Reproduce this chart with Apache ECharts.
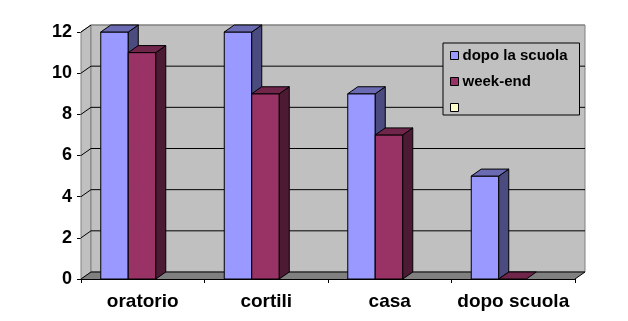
<!DOCTYPE html>
<html>
<head>
<meta charset="utf-8">
<script src="https://cdn.jsdelivr.net/npm/echarts@6/dist/echarts.min.js"></script>
<style>
html,body{margin:0;padding:0;background:#fff;}
#chart{width:628px;height:321px;}
</style>
</head>
<body>
<div id="chart"></div>
<script>
// ---- data ----
const categories = ['oratorio', 'cortili', 'casa', 'dopo scuola'];
const seriesNames = ['dopo la scuola', 'week-end', ' '];
const dopoLaScuola = [12, 12, 9, 5];
const weekEnd = [11, 9, 7, 0];
const yTicks = [0, 2, 4, 6, 8, 10, 12];

// ---- style ----
const DX = 10, DY = -7;          // 3D depth offset
const BAR_W = 0.2227;            // bar width as a fraction of band
const FONT = '"Liberation Sans", Arial, sans-serif';

function barRenderer(offsetFrac, front, top, side) {
  return function (params, api) {
    const idx = api.value(0), v = api.value(1);
    const p = api.coord([idx, v]);
    const p0 = api.coord([idx, 0]);
    const band = api.size([1, 0])[0];
    const xL = p[0] + offsetFrac * band;
    const w = BAR_W * band;
    const yT = p[1], yB = p0[1];
    const st = { stroke: '#000', lineWidth: 1 };
    const children = [];
    if (yB - yT > 0.5) {
      children.push({ type: 'rect', shape: { x: xL, y: yT, width: w, height: yB - yT },
        style: Object.assign({ fill: front }, st) });
      children.push({ type: 'polygon', shape: { points: [[xL + w, yT], [xL + w + DX, yT + DY], [xL + w + DX, yB + DY], [xL + w, yB]] },
        style: Object.assign({ fill: side }, st) });
    }
    children.push({ type: 'polygon', shape: { points: [[xL, yT], [xL + w, yT], [xL + w + DX, yT + DY], [xL + DX, yT + DY]] },
      style: Object.assign({ fill: top }, st) });
    return { type: 'group', children: children };
  };
}

function wallsRenderer(params, api) {
  const cs = params.coordSys;
  const x0 = cs.x, x1 = cs.x + cs.width;
  const yTop = cs.y, yBot = cs.y + cs.height;
  return {
    type: 'group',
    children: [
      { type: 'polygon', shape: { points: [[x0, yTop], [x0 + DX, yTop + DY], [x0 + DX, yBot + DY], [x0, yBot]] },
        style: { fill: '#C0C0C0', stroke: '#808080', lineWidth: 1 } },
      { type: 'rect', shape: { x: x0 + DX, y: yTop + DY, width: cs.width, height: cs.height },
        style: { fill: '#C0C0C0', stroke: '#808080', lineWidth: 1 } },
      { type: 'polygon', shape: { points: [[x0, yBot], [x1, yBot], [x1 + DX, yBot + DY], [x0 + DX, yBot + DY]] },
        style: { fill: '#808080', stroke: null } },
      { type: 'line', shape: { x1: x1, y1: yBot, x2: x1 + DX, y2: yBot + DY },
        style: { stroke: '#000', lineWidth: 1 } }
    ]
  };
}

function gridRenderer(params, api) {
  const cs = params.coordSys;
  const v = api.value(1);
  const y = api.coord([0, v])[1];
  const x0 = cs.x, x1 = cs.x + cs.width;
  const isTop = v === yTicks[yTicks.length - 1];
  return {
    type: 'group',
    children: [
      { type: 'line', shape: { x1: x0, y1: y, x2: x0 + DX, y2: y + DY }, style: { stroke: '#000', lineWidth: 1 } },
      { type: 'line', shape: { x1: x0 + DX, y1: y + DY, x2: x1 + DX, y2: y + DY },
        style: { stroke: isTop ? '#808080' : '#000', lineWidth: 1 } }
    ]
  };
}

const chart = echarts.init(document.getElementById('chart'), null, { renderer: 'canvas' });
chart.setOption({
  backgroundColor: '#fff',
  animation: false,
  grid: { left: 81, right: 53, top: 32, bottom: 42 },
  legend: {
    data: seriesNames,
    orient: 'vertical',
    left: 443, top: 43,
    padding: [5, 12, 0, 7],
    itemWidth: 8, itemHeight: 8,
    itemGap: 11,
    icon: 'rect',
    backgroundColor: '#C0C0C0',
    borderColor: '#000', borderWidth: 1, borderRadius: 0,
    itemStyle: { borderColor: '#000', borderWidth: 1 },
    textStyle: { fontFamily: FONT, fontWeight: 'bold', fontSize: 15, color: '#000', lineHeight: 14, padding: [0, 0, 0, -1] },
    selectedMode: false
  },
  xAxis: {
    type: 'category',
    data: categories,
    boundaryGap: true,
    axisLine: { lineStyle: { color: '#000', width: 1 } },
    axisTick: { show: true, length: 4, interval: 0, lineStyle: { color: '#000' } },
    axisLabel: { interval: 0, fontFamily: FONT, fontWeight: 'bold', fontSize: 19, color: '#000', margin: 13 },
    splitLine: { show: false }
  },
  yAxis: {
    type: 'value',
    min: 0, max: 12, interval: 2,
    axisLine: { show: true, lineStyle: { color: '#808080', width: 1 } },
    axisTick: { show: true, length: 4, lineStyle: { color: '#000' } },
    axisLabel: { fontFamily: FONT, fontWeight: 'bold', fontSize: 18, color: '#000', margin: 9 },
    splitLine: { show: false }
  },
  series: [
    { type: 'custom', name: '_walls', silent: true, renderItem: wallsRenderer, data: [[0, 0]], encode: { x: 0, y: 1 }, z: 1 },
    { type: 'custom', name: '_grid', silent: true, renderItem: gridRenderer, data: yTicks.map(v => [0, v]), encode: { x: 0, y: 1 }, z: 2 },
    { type: 'custom', name: seriesNames[0], itemStyle: { color: '#9999FF' }, z: 3,
      renderItem: barRenderer(-0.34, '#9999FF', '#6B6BB3', '#4B4B80'),
      data: dopoLaScuola.map((v, i) => [i, v]), encode: { x: 0, y: 1 } },
    { type: 'custom', name: seriesNames[1], itemStyle: { color: '#993366' }, z: 4,
      renderItem: barRenderer(-0.34 + BAR_W, '#993366', '#70264B', '#4D1A33'),
      data: weekEnd.map((v, i) => [i, v]), encode: { x: 0, y: 1 } },
    { type: 'custom', name: seriesNames[2], itemStyle: { color: '#FFFFCC' }, z: 5,
      renderItem: function () { return { type: 'group', children: [] }; }, data: [] }
  ]
});
</script>
</body>
</html>
